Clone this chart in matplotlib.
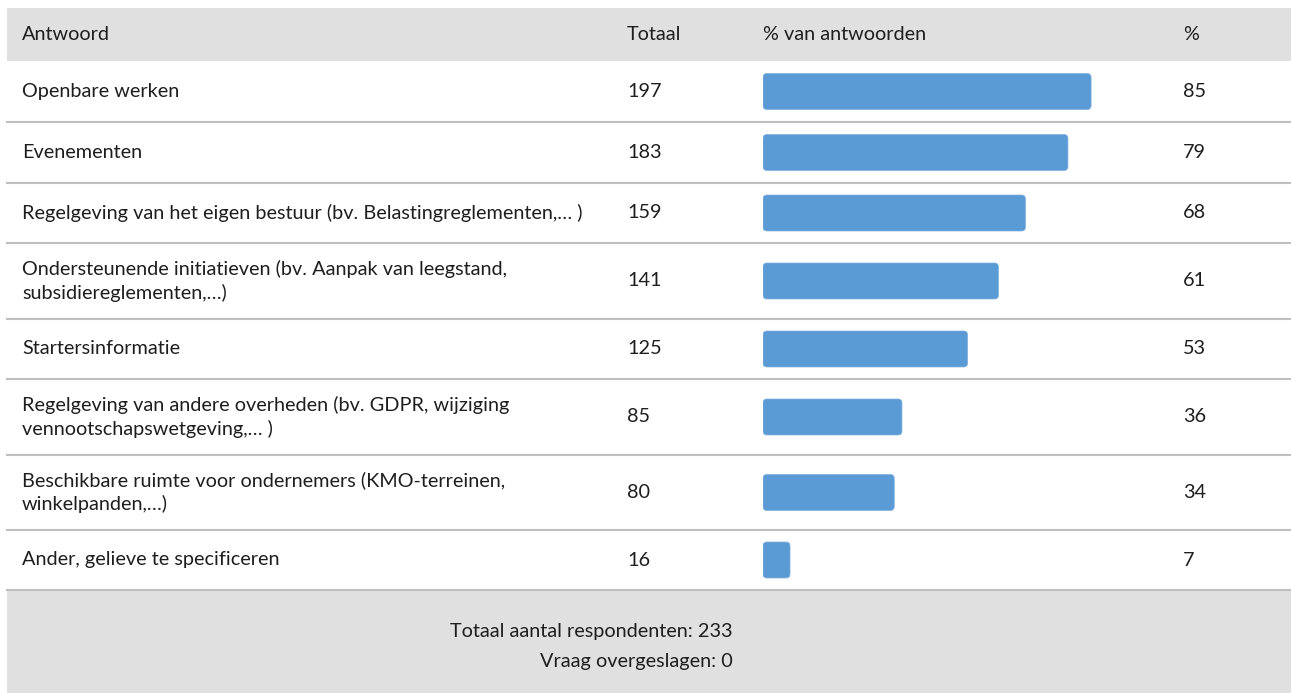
import matplotlib
matplotlib.use("Agg")
import matplotlib.pyplot as plt
from matplotlib.patches import FancyBboxPatch, Rectangle

plt.rcParams['font.family'] = ['Lato', 'DejaVu Sans']

# survey data
answers = [
    "Openbare werken",
    "Evenementen",
    "Regelgeving van het eigen bestuur (bv. Belastingreglementen,… )",
    "Ondersteunende initiatieven (bv. Aanpak van leegstand,\nsubsidiereglementen,…)",
    "Startersinformatie",
    "Regelgeving van andere overheden (bv. GDPR, wijziging\nvennootschapswetgeving,… )",
    "Beschikbare ruimte voor ondernemers (KMO-terreinen,\nwinkelpanden,…)",
    "Ander, gelieve te specificeren",
]
totals = [197, 183, 159, 141, 125, 85, 80, 16]
percents = [85, 79, 68, 61, 53, 36, 34, 7]
headers = ["Antwoord", "Totaal", "% van antwoorden", "%"]
respondents = 233
skipped = 0

W, H = 1291, 693
fig = plt.figure(figsize=(W / 100, H / 100), dpi=100)
ax = fig.add_axes([0, 0, 1, 1])
ax.set_xlim(0, W)
ax.set_ylim(H, 0)
ax.axis('off')

txt = '#1e1e1e'
fs = 14.3
# row boundaries (pixels)
row_edges = [61, 122, 183, 243, 319, 379, 455, 530, 590]
col_x = [22, 627, 763, 1183]
left = 7

# header
ax.add_patch(Rectangle((left, 8), W - left, 53, color='#e0e0e0', lw=0))
for h, x in zip(headers, col_x):
    ax.text(x, 34.5, h, fontsize=fs, color=txt, va='center', ha='left')

# bar axes: 0..100 % spans 386 px
bx0, bw = 763, 386
bax = fig.add_axes([bx0 / W, 0, bw / W, 1])
bax.set_xlim(0, 100)
bax.set_ylim(H, 0)
bax.axis('off')

centers = [(a + b) / 2 for a, b in zip(row_edges[:-1], row_edges[1:])]
bars = bax.barh(centers, percents, height=36, left=0, color='#5b9bd5')
px_per_unit = bw / 100
rad = 4
for b in bars:
    x, y = b.get_x(), b.get_y()
    w, h = b.get_width(), b.get_height()
    b.remove()
    bax.add_patch(FancyBboxPatch((x, y), w, h,
                                 boxstyle=f"round,pad=0,rounding_size={rad / px_per_unit}",
                                 mutation_aspect=px_per_unit,
                                 fc='#5b9bd5', ec='#7fb0de', lw=0.5))

for i, (a, t, p) in enumerate(zip(answers, totals, percents)):
    c = centers[i]
    ax.text(col_x[0], c, a, fontsize=fs, color=txt, va='center', ha='left', linespacing=1.4)
    ax.text(col_x[1], c, str(t), fontsize=fs, color=txt, va='center', ha='left')
    ax.text(col_x[3], c, str(p), fontsize=fs, color=txt, va='center', ha='left')
    if i > 0:
        ax.plot([left, W], [row_edges[i], row_edges[i]], color='#bfbfbf', lw=1.5)

# footer
ax.add_patch(Rectangle((left, row_edges[-1]), W - left, H - row_edges[-1], color='#e0e0e0', lw=0))
ax.plot([left, W], [row_edges[-1], row_edges[-1]], color='#bfbfbf', lw=1.5)
ax.text(733, 631, f"Totaal aantal respondenten: {respondents}", fontsize=fs, color=txt, va='center', ha='right')
ax.text(733, 662, f"Vraag overgeslagen: {skipped}", fontsize=fs, color=txt, va='center', ha='right')

fig.savefig("out.png", dpi=100)
